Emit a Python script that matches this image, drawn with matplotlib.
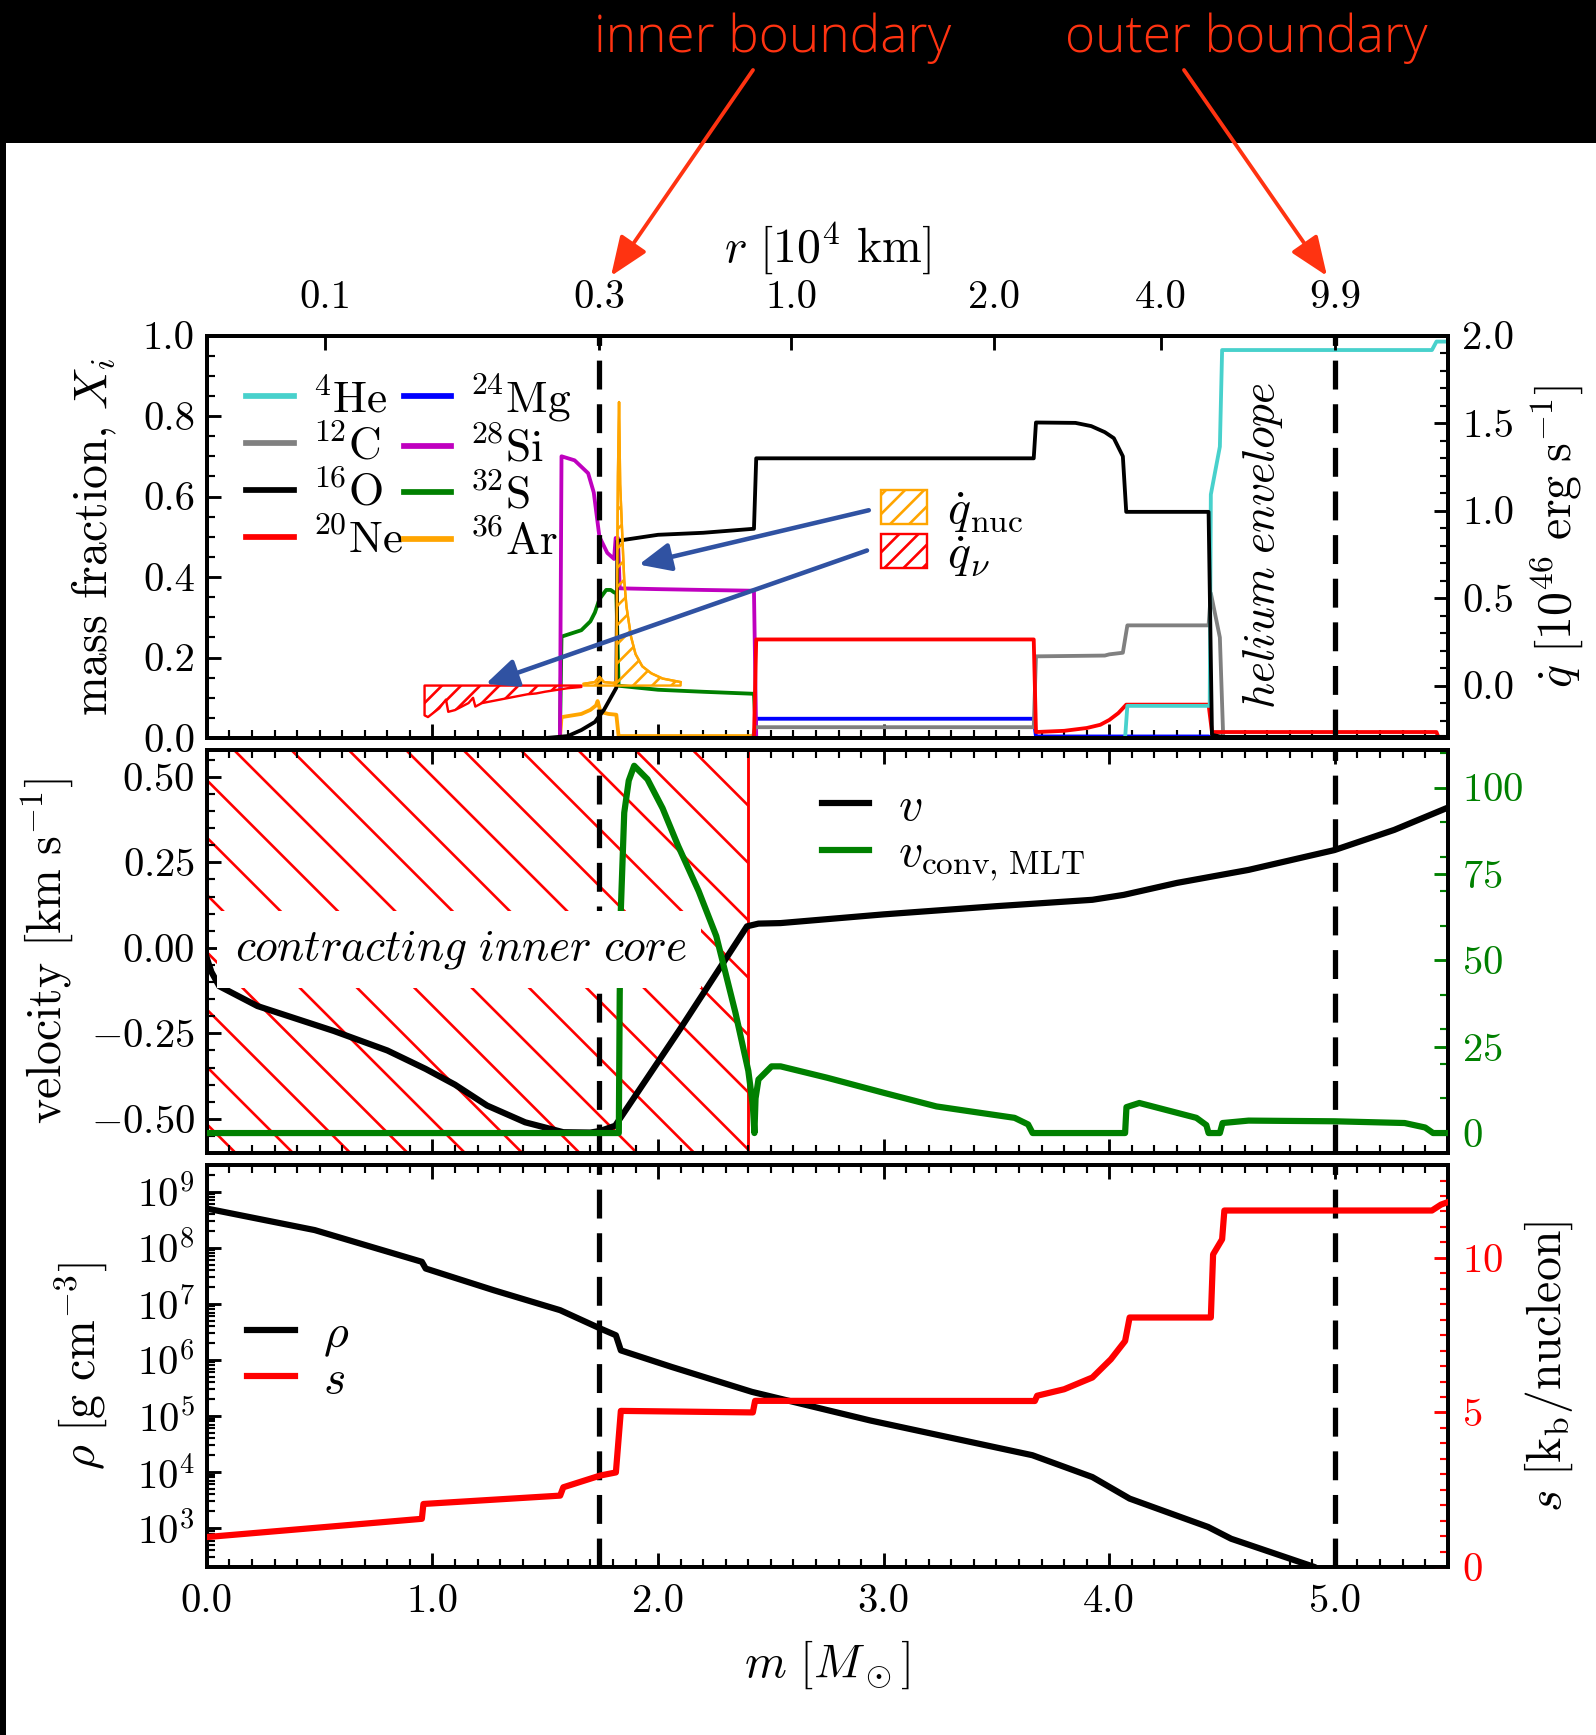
import matplotlib
matplotlib.use("Agg")
import matplotlib.pyplot as plt
from matplotlib.lines import Line2D
from matplotlib.patches import Patch, Rectangle
from matplotlib.ticker import (MultipleLocator, FormatStrFormatter, FuncFormatter,
                               LogLocator, NullFormatter)
import numpy as np

DPI = 172

# ── Data ─────────────────────────────────────────────────────────────────────

# mass fractions, panel 1
m_he = [0.0, 4.07, 4.08, 4.445, 4.45, 4.49, 4.50, 5.43, 5.45, 5.5]
x_he = [0.0, 0.0, 0.08, 0.08, 0.605, 0.724, 0.964, 0.964, 0.985, 0.985]

m_c = [0.0, 2.42, 2.43, 3.665, 3.675, 3.98, 4.0, 4.06, 4.08, 4.44, 4.45, 4.49, 4.505, 5.5]
x_c = [0.0, 0.0, 0.027, 0.027, 0.203, 0.205, 0.208, 0.212, 0.28, 0.28, 0.36, 0.25, 0.0, 0.0]

m_o = [0.0, 1.50, 1.60, 1.66, 1.72, 1.76, 1.80, 1.815, 1.82, 2.0, 2.2, 2.425, 2.435,
       3.665, 3.675, 3.85, 3.92, 3.98, 4.02, 4.06, 4.075, 4.44, 4.455, 4.50, 5.5]
x_o = [0.0, 0.0, 0.005, 0.02, 0.04, 0.07, 0.11, 0.125, 0.49, 0.505, 0.51, 0.52, 0.695,
       0.695, 0.784, 0.783, 0.775, 0.76, 0.745, 0.70, 0.562, 0.562, 0.008, 0.003, 0.003]

m_ne = [0.0, 2.425, 2.435, 3.665, 3.675, 3.80, 3.90, 3.96, 4.00, 4.04, 4.075,
        4.44, 4.455, 5.45, 5.46]
x_ne = [0.0, 0.0, 0.245, 0.245, 0.015, 0.018, 0.025, 0.033, 0.045, 0.062, 0.083,
        0.083, 0.015, 0.015, 0.0]

m_mg = [0.0, 2.425, 2.435, 3.665, 3.675, 4.44, 4.455, 5.5]
x_mg = [0.0, 0.0, 0.048, 0.048, 0.004, 0.004, 0.0, 0.0]

m_si = [0.0, 1.565, 1.572, 1.63, 1.69, 1.715, 1.74, 1.775, 1.805, 1.812, 1.822, 1.83,
        2.0, 2.2, 2.425, 2.435, 5.5]
x_si = [0.0, 0.0, 0.70, 0.69, 0.658, 0.61, 0.50, 0.46, 0.445, 0.497, 0.497, 0.372,
        0.37, 0.368, 0.366, 0.0, 0.0]

m_s = [0.0, 1.565, 1.572, 1.66, 1.70, 1.72, 1.74, 1.77, 1.79, 1.805, 1.815, 1.825,
       2.0, 2.2, 2.425, 2.435, 5.5]
x_s = [0.0, 0.0, 0.252, 0.268, 0.29, 0.312, 0.345, 0.368, 0.368, 0.362, 0.36, 0.13,
       0.12, 0.115, 0.11, 0.0, 0.0]

m_ar = [0.0, 1.565, 1.572, 1.66, 1.70, 1.725, 1.732, 1.745, 1.78, 1.815, 1.825,
        2.425, 2.435, 5.5]
x_ar = [0.0, 0.0, 0.052, 0.06, 0.07, 0.081, 0.092, 0.065, 0.06, 0.058, 0.005,
        0.005, 0.0, 0.0]

# heating / cooling rates [1e46 erg/s], right axis of panel 1
m_qnuc = [1.67, 1.72, 1.74, 1.76, 1.80, 1.815, 1.822, 1.827, 1.832, 1.84, 1.85,
          1.86, 1.88, 1.90, 1.93, 1.97, 2.02, 2.10]
q_nuc = [0.01, 0.02, 0.05, 0.02, 0.015, 0.02, 1.2, 1.62, 1.15, 0.9, 0.6,
         0.45, 0.28, 0.18, 0.11, 0.07, 0.04, 0.02]

m_qnu = [0.965, 0.98, 1.00, 1.03, 1.06, 1.07, 1.10, 1.13, 1.16, 1.18, 1.19, 1.22,
         1.26, 1.30, 1.34, 1.38, 1.42, 1.46, 1.50, 1.55, 1.60, 1.66]
q_nu = [-0.17, -0.18, -0.16, -0.13, -0.08, -0.15, -0.14, -0.12, -0.10, -0.07, -0.12,
        -0.10, -0.09, -0.08, -0.07, -0.06, -0.05, -0.045, -0.035, -0.025, -0.015, -0.008]

# velocities, panel 2
m_v = [0.0, 0.02, 0.055, 0.224, 0.563, 0.80, 0.97, 1.10, 1.242, 1.411, 1.58, 1.70,
       1.745, 1.81, 2.10, 2.394, 2.445, 2.543, 3.0, 3.5, 3.925, 4.064, 4.30, 4.617,
       4.998, 5.263, 5.5]
v = [-0.03, -0.07, -0.112, -0.17, -0.243, -0.30, -0.354, -0.40, -0.461, -0.51, -0.539,
     -0.54, -0.535, -0.52, -0.235, 0.063, 0.071, 0.0725, 0.098, 0.122, 0.1406, 0.155,
     0.19, 0.228, 0.286, 0.345, 0.41]

m_vc = [0.0, 1.826, 1.83, 1.835, 1.85, 1.87, 1.894, 1.953, 2.02, 2.089, 2.18, 2.258,
        2.343, 2.40, 2.42, 2.427, 2.432, 2.445, 2.503, 2.543, 2.75, 3.003, 3.234,
        3.58, 3.64, 3.66, 4.07, 4.076, 4.133, 4.386, 4.43, 4.44, 4.49, 4.502, 4.617,
        5.0, 5.309, 5.40, 5.435, 5.5]
v_conv = [0.0, 0.0, 40, 64.7, 92.7, 102, 106.3, 102.4, 94, 83.1, 70, 57,
          34.8, 18, 8, 0.0, 10, 15.5, 19.3, 19.3, 16, 11.6, 7.7,
          4.4, 2.5, 0.0, 0.0, 7.5, 8.7, 4.4, 2.3, 0.0, 0.0, 2.9, 3.6,
          3.4, 2.9, 1.6, 0.0, 0.0]

# density (log10) and entropy, panel 3
m_rho = [0.0, 0.478, 0.953, 0.97, 1.27, 1.566, 1.744, 1.813, 1.835, 2.06, 2.416,
         2.94, 3.659, 3.925, 4.09, 4.438, 4.54, 4.91, 5.0]
log_rho = [8.70, 8.316, 7.75, 7.63, 7.245, 6.887, 6.56, 6.44, 6.17, 5.875, 5.43,
           4.92, 4.30, 3.91, 3.526, 3.02, 2.81, 2.305, 2.1]

m_ent = [0.0, 0.953, 0.96, 1.566, 1.58, 1.744, 1.813, 1.835, 2.42, 2.43, 3.67, 3.68,
         3.80, 3.925, 4.007, 4.07, 4.09, 4.45, 4.46, 4.50, 4.51, 5.43, 5.47, 5.5]
s_ent = [0.97, 1.56, 2.04, 2.31, 2.58, 2.96, 3.06, 5.05, 5.0, 5.375, 5.37, 5.54,
         5.75, 6.13, 6.72, 7.31, 8.07, 8.07, 10.11, 10.6, 11.53, 11.53, 11.72, 11.8]

# boundaries and radius axis
m_inner, m_outer = 1.74, 5.0
r_tick_m = [0.524, 1.74, 2.59, 3.49, 4.23, 5.0]
r_tick_labels = ["0.1", "0.3", "1.0", "2.0", "4.0", "9.9"]

# ── Style ────────────────────────────────────────────────────────────────────

plt.rcParams.update({
    "font.family": "serif",
    "font.serif": ["cmr10"],
    "mathtext.fontset": "cm",
    "axes.formatter.use_mathtext": True,
    "axes.linewidth": 1.6,
    "xtick.direction": "in", "ytick.direction": "in",
    "xtick.major.size": 6, "ytick.major.size": 6,
    "xtick.minor.size": 3.3, "ytick.minor.size": 3.3,
    "xtick.major.width": 1.2, "ytick.major.width": 1.2,
    "xtick.minor.width": 0.9, "ytick.minor.width": 0.9,
    "xtick.major.pad": 7, "ytick.major.pad": 5,
    "xtick.labelsize": 17, "ytick.labelsize": 17,
    "axes.labelsize": 20,
    "hatch.linewidth": 1.1,
})

FS_LEG = 20
RED_ANN = "#ff3311"
BLUE_ARR = "#3052a2"
dash = (0, (5.5, 2.8))
LW_DASH = 2.2

fig = plt.figure(figsize=(1596 / DPI, 1735 / DPI), dpi=DPI)
fig.patch.set_facecolor("white")
band_h = 142.7 / 1735
fig.add_artist(Rectangle((0, 1 - band_h), 1, band_h, transform=fig.transFigure,
                         facecolor="black", edgecolor="none", zorder=0))
fig.add_artist(Rectangle((0, 0), 6 / 1596, 1, transform=fig.transFigure,
                         facecolor="black", edgecolor="none", zorder=0))

L, W = 0.1296, 0.7775
ax1 = fig.add_axes([L, 0.5746, W, 0.2320])
ax2 = fig.add_axes([L, 0.3354, W, 0.2326])
ax3 = fig.add_axes([L, 0.0968, W, 0.2317])


def style_x(ax, top=True, labels=False):
    ax.set_xlim(0, 5.5)
    ax.xaxis.set_major_locator(MultipleLocator(1.0))
    ax.xaxis.set_minor_locator(MultipleLocator(0.1))
    ax.xaxis.set_major_formatter(FormatStrFormatter("%.1f"))
    ax.tick_params(axis="x", which="both", top=top, bottom=True, labelbottom=labels)


def leg_kw(**kw):
    base = dict(frameon=False, fontsize=FS_LEG, handlelength=1.0, handletextpad=0.6,
                labelspacing=0.0, borderpad=0.4, borderaxespad=0.0, loc="upper left")
    base.update(kw)
    return base


# ── Panel 1: composition ─────────────────────────────────────────────────────

iso = [
    (m_he, x_he, "mediumturquoise", r"${}^{4}\mathrm{He}$"),
    (m_c, x_c, "gray", r"${}^{12}\mathrm{C}$"),
    (m_o, x_o, "black", r"${}^{16}\mathrm{O}$"),
    (m_ne, x_ne, "red", r"${}^{20}\mathrm{Ne}$"),
    (m_mg, x_mg, "blue", r"${}^{24}\mathrm{Mg}$"),
    (m_si, x_si, "#bf00bf", r"${}^{28}\mathrm{Si}$"),
    (m_s, x_s, "green", r"${}^{32}\mathrm{S}$"),
    (m_ar, x_ar, "orange", r"${}^{36}\mathrm{Ar}$"),
]
draw_order = [4, 6, 7, 5, 1, 3, 0, 2]
for i in draw_order:
    mm, xx, col, _ = iso[i]
    ax1.plot(mm, xx, color=col, lw=1.6, zorder=3)

handles = [Line2D([], [], color=c, lw=2.4) for _, _, c, _ in iso]
ax1.legend(handles, [lab for *_, lab in iso],
           **leg_kw(ncol=2, bbox_to_anchor=(0.017, 0.955), fontsize=19,
                    handlelength=1.05, handletextpad=0.4, columnspacing=0.0,
                    labelspacing=0.08))

ax1.set_ylim(0, 1.0)
ax1.yaxis.set_major_locator(MultipleLocator(0.2))
ax1.yaxis.set_minor_locator(MultipleLocator(0.05))
ax1.yaxis.set_major_formatter(FormatStrFormatter("%.1f"))
ax1.set_ylabel(r"mass fraction, $X_i$", labelpad=10)
style_x(ax1, top=False)
for mb in (m_inner, m_outer):
    ax1.axvline(mb, color="black", lw=LW_DASH, ls=dash, zorder=4)
ax1.text(4.68, 0.478, r"$\mathit{helium\ envelope}$", rotation=90,
         ha="center", va="center", fontsize=19, zorder=5)

ax1r = ax1.twinx()
ax1r.set_ylim(-0.3, 2.0)
ax1r.yaxis.set_major_locator(MultipleLocator(0.5))
ax1r.yaxis.set_minor_locator(MultipleLocator(0.1))
ax1r.yaxis.set_major_formatter(FormatStrFormatter("%.1f"))
ax1r.tick_params(axis="y", pad=6)
ax1r.set_ylabel(r"$\dot{q}\ [10^{46}\ \mathrm{erg\ s^{-1}}]$", labelpad=6)
ax1r.fill_between(m_qnuc, 0, q_nuc, facecolor="none", edgecolor="orange",
                  hatch="///", lw=1.0, zorder=2)
ax1r.plot(m_qnuc, q_nuc, color="orange", lw=1.0, zorder=2)
ax1r.fill_between(m_qnu, 0, q_nu, facecolor="none", edgecolor="red",
                  hatch="///", lw=1.0, zorder=2)
ax1r.legend([Patch(facecolor="none", edgecolor="orange", hatch="///"),
             Patch(facecolor="none", edgecolor="red", hatch="///")],
            [r"$\dot{q}_{\rm nuc}$", r"$\dot{q}_{\nu}$"],
            **leg_kw(bbox_to_anchor=(0.528, 0.665), handlelength=0.97,
                     handletextpad=0.4, labelspacing=-0.03))

arrow_kw = dict(arrowstyle="-|>,head_length=0.56,head_width=0.25",
                color=BLUE_ARR, lw=1.9, mutation_scale=20, shrinkA=0, shrinkB=0)
ax1r.annotate("", xy=(1.915, 0.431), xycoords=ax1.transData,
              xytext=(2.934, 0.566), textcoords=ax1.transData, arrowprops=arrow_kw)
ax1r.annotate("", xy=(1.236, 0.1345), xycoords=ax1.transData,
              xytext=(2.926, 0.466), textcoords=ax1.transData, arrowprops=arrow_kw)

ax1t = ax1.twiny()
ax1t.set_xlim(0, 5.5)
ax1t.set_xticks(r_tick_m)
ax1t.set_xticklabels(r_tick_labels)
ax1t.tick_params(axis="x", which="major", top=True, pad=8, length=6)
ax1t.tick_params(axis="x", which="minor", top=False)
ax1t.set_xlabel(r"$r\ [10^{4}\ \mathrm{km}]$", labelpad=8)

# ── Panel 2: velocities ──────────────────────────────────────────────────────

ax2.axvspan(0, 2.40, facecolor="none", edgecolor="red", hatch="\\", lw=1.2, zorder=1)
ax2.plot(m_v, v, color="black", lw=2.6, zorder=3)
for mb in (m_inner, m_outer):
    ax2.axvline(mb, color="black", lw=LW_DASH, ls=dash, zorder=4)
ax2.set_ylim(-0.6, 0.58)
ax2.yaxis.set_major_locator(MultipleLocator(0.25))
ax2.yaxis.set_minor_locator(MultipleLocator(0.05))
ax2.yaxis.set_major_formatter(FuncFormatter(lambda y, _: f"${y:.2f}$"))
ax2.set_ylabel(r"velocity $[\mathrm{km\ s^{-1}}]$", labelpad=6)
style_x(ax2)

ax2r = ax2.twinx()
ax2r.plot(m_vc, v_conv, color="green", lw=2.6, zorder=3)
ax2r.yaxis.set_major_locator(MultipleLocator(25))
ax2r.yaxis.set_minor_locator(MultipleLocator(10))
ax2r.tick_params(axis="y", which="both", colors="green", pad=6)
ax2r.add_patch(Rectangle((0.043, -0.117), 2.147, 0.224, transform=ax2.transData,
                         facecolor="white", edgecolor="none", zorder=5))
ax2r.text(1.127, -0.005, r"$\mathit{contracting\ inner\ core}$",
          transform=ax2.transData, ha="center", va="center", fontsize=19, zorder=6)
ax2r.set_ylim(-5.8, 111)
ax2r.legend([Line2D([], [], color="black", lw=2.6), Line2D([], [], color="green", lw=2.6)],
            [r"$v$", r"$v_{\rm conv,\, MLT}$"],
            **leg_kw(bbox_to_anchor=(0.48, 0.958), labelspacing=0.05))

# ── Panel 3: density and entropy ─────────────────────────────────────────────

rho = [10 ** lr for lr in log_rho]
ax3.plot(m_rho, rho, color="black", lw=2.6, zorder=3)
for mb in (m_inner, m_outer):
    ax3.axvline(mb, color="black", lw=LW_DASH, ls=dash, zorder=4)
ax3.set_yscale("log")
ax3.set_ylim(10 ** 2.305, 10 ** 9.476)
ax3.yaxis.set_major_locator(LogLocator(base=10, numticks=20))
ax3.yaxis.set_minor_locator(LogLocator(base=10, subs=np.arange(2, 10), numticks=20))
ax3.yaxis.set_minor_formatter(NullFormatter())
ax3.set_ylabel(r"$\rho\ [\mathrm{g\ cm^{-3}}]$", labelpad=11)
style_x(ax3, labels=True)
ax3.set_xlabel(r"$m\ [M_\odot]$", labelpad=8)

ax3r = ax3.twinx()
ax3r.plot(m_ent, s_ent, color="red", lw=2.6, zorder=3)
ax3r.set_ylim(0, 13)
ax3r.yaxis.set_major_locator(MultipleLocator(5))
ax3r.yaxis.set_minor_locator(MultipleLocator(0.5))
ax3r.tick_params(axis="y", which="both", colors="red", pad=6)
ax3r.set_ylabel(r"$s\ [\mathrm{k_b/nucleon}]$", labelpad=8)
ax3r.legend([Line2D([], [], color="black", lw=2.6), Line2D([], [], color="red", lw=2.6)],
            [r"$\rho$", r"$s$"], **leg_kw(bbox_to_anchor=(0.017, 0.68)))

# ── Annotations in the black band ────────────────────────────────────────────

H = 1735
for label, xc, tail, head in [
    ("inner boundary", 773, (753, H - 70), (611, H - 276)),
    ("outer boundary", 1246, (1184, H - 70), (1327, H - 276)),
]:
    fig.text(xc / 1596, (H - 51.7) / H, label, ha="center", va="baseline",
             family="Open Sans", fontweight="light", fontsize=21.5, color=RED_ANN)
    ax1.annotate("", xy=head, xycoords="figure pixels", xytext=tail,
                 textcoords="figure pixels", annotation_clip=False,
                 arrowprops=dict(arrowstyle="-|>,head_length=0.7,head_width=0.28",
                                 color=RED_ANN, lw=1.6, mutation_scale=20,
                                 shrinkA=0, shrinkB=0))

fig.savefig("out.png", dpi=DPI)
